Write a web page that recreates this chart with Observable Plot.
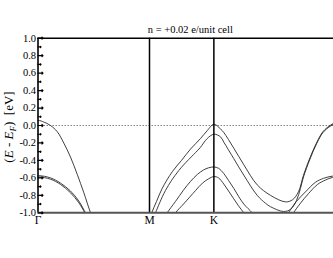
<!DOCTYPE html>
<html>
<head>
<meta charset="utf-8">
<script src="https://cdn.jsdelivr.net/npm/d3@7"></script>
<script src="https://cdn.jsdelivr.net/npm/@observablehq/plot@0.6"></script>
<style>
  html, body { margin: 0; padding: 0; background: white; }
  svg text { font-family: 'Liberation Serif', 'DejaVu Serif', serif !important; }
</style>
</head>
<body>
<div id="chart"></div>
<script>
// Path coordinate k in units of |ΓM|; M = 1, K = 1 + 1/√3, Γ' = 1 + √3
const K = 1 + 1 / Math.sqrt(3);
const G2 = 1 + Math.sqrt(3);

const titleText = "n = +0.02 e/unit cell";
const xTickPos = [0, 1, K];
const xTickLabels = ["Γ", "M", "K"];
const yTicksMajor = [-1.0, -0.8, -0.6, -0.4, -0.2, 0.0, 0.2, 0.4, 0.6, 0.8, 1.0];
const yTicksMinor = [-0.9, -0.7, -0.5, -0.3, -0.1, 0.1, 0.3, 0.5, 0.7, 0.9];

// Bands as [k, E - E_F (eV)]
const bandA = [[-0.112, 0.0], [0, 0.057], [0.052, 0.04], [0.112, 0.0], [0.172, -0.07], [0.231, -0.2],
  [0.291, -0.36], [0.352, -0.56], [0.411, -0.77], [0.471, -1.0], [0.516, -1.15]];
const bandB1 = [[-0.112, -0.60], [0, -0.575], [0.112, -0.60], [0.202, -0.66], [0.291, -0.75],
  [0.366, -0.865], [0.426, -1.0], [0.45, -1.05]];
const bandB2 = [[-0.112, -0.615], [0, -0.59], [0.112, -0.615], [0.202, -0.675], [0.291, -0.77],
  [0.366, -0.885], [0.420, -1.0], [0.44, -1.05]];
const bandC1 = [[1.0, -1.08], [1.020, -1.0], [1.063, -0.87], [1.114, -0.72], [1.204, -0.53], [1.287, -0.40],
  [1.368, -0.27], [1.457, -0.15], [1.517, -0.06], [K, 0.015], [1.637, -0.04], [1.666, -0.08],
  [1.756, -0.26], [1.846, -0.45], [1.966, -0.68], [2.085, -0.80], [2.220, -0.875], [2.283, -0.85],
  [2.336, -0.76], [2.381, -0.57], [2.439, -0.37], [2.498, -0.2], [2.556, -0.07], [2.619, 0.0],
  [2.677, 0.04], [G2, 0.057], [2.787, 0.04]];
const bandC2 = [[1.03, -1.08], [1.054, -1.0], [1.143, -0.745], [1.263, -0.515], [1.428, -0.29],
  [1.457, -0.25], [1.517, -0.15], [K, -0.10], [1.637, -0.13], [1.666, -0.19], [1.756, -0.38],
  [1.846, -0.57], [1.966, -0.80], [2.040, -0.89], [2.085, -0.93], [2.202, -0.985], [2.265, -0.96],
  [2.318, -0.86], [2.354, -0.72], [2.381, -0.59], [2.439, -0.385], [2.498, -0.21], [2.556, -0.08],
  [2.619, -0.01], [2.677, 0.03], [G2, 0.045], [2.787, 0.03]];
const bandC3 = [[1.140, -1.05], [1.159, -1.0], [1.233, -0.87], [1.305, -0.74], [1.368, -0.64],
  [1.430, -0.56], [1.484, -0.51], [1.529, -0.485], [K, -0.475], [1.619, -0.49], [1.666, -0.55],
  [1.709, -0.63], [1.756, -0.72], [1.798, -0.81], [1.846, -0.90], [1.921, -1.0], [1.95, -1.05]];
const bandC4 = [[1.21, -1.05], [1.233, -1.0], [1.305, -0.90], [1.413, -0.745], [1.475, -0.66],
  [1.531, -0.61], [K, -0.585], [1.619, -0.60], [1.666, -0.67], [1.709, -0.75], [1.756, -0.84],
  [1.798, -0.92], [1.846, -1.0], [1.87, -1.05]];
const bandB1b = [[2.22, -1.05], [2.246, -1.0], [2.318, -0.87], [2.399, -0.76], [2.489, -0.65],
  [2.561, -0.605], [2.641, -0.58], [G2, -0.575], [2.82, -0.58]];
const bandB2b = [[2.265, -1.05], [2.291, -1.0], [2.354, -0.89], [2.426, -0.78], [2.507, -0.675],
  [2.578, -0.625], [2.641, -0.595], [G2, -0.59], [2.82, -0.595]];

const bands = {A: bandA, B1: bandB1, B2: bandB2, C1: bandC1, C2: bandC2, C3: bandC3, C4: bandC4,
  B1b: bandB1b, B2b: bandB2b};
const table = [];
for (const [name, pts] of Object.entries(bands)) for (const [k, E] of pts) table.push({band: name, k, E});

const W = 333, H = 258;
const mL = 37.5, mT = 37.7, mB = 45.7;
const unit = 111.5;
const xMax = (W - mL) / unit;

const serif = "'Liberation Serif', 'DejaVu Serif', serif";

const plot = Plot.plot({
  width: W,
  height: H,
  marginLeft: mL,
  marginRight: 0,
  marginTop: mT,
  marginBottom: mB,
  style: {fontFamily: serif, fontSize: "10.5px", background: "white", color: "black", overflow: "visible"},
  x: {domain: [0, xMax], axis: null},
  y: {domain: [-1, 1], axis: null},
  marks: [
    Plot.ruleY([0], {stroke: "#777", strokeWidth: 0.9, strokeDasharray: "1.5,1.5"}),
    Plot.line(table, {x: "k", y: "E", z: "band", curve: "catmull-rom", stroke: "#2a2a2a", strokeWidth: 0.9, clip: true}),
    Plot.ruleX([1, K], {stroke: "black", strokeWidth: 1.5}),
    Plot.ruleX([0], {stroke: "black", strokeWidth: 1.6}),
    Plot.ruleY([1], {stroke: "black", strokeWidth: 1.5}),
    Plot.ruleY([-1], {stroke: "#555", strokeWidth: 2}),
    Plot.vector(yTicksMajor, {x: 0, y: d => d, length: 5, rotate: 90, anchor: "start", stroke: "black", strokeWidth: 1.2}),
    Plot.vector(yTicksMinor, {x: 0, y: d => d, length: 3, rotate: 90, anchor: "start", stroke: "black", strokeWidth: 1.2}),
    Plot.axisY({ticks: yTicksMajor, tickSize: 0, tickPadding: 2, tickFormat: d => d.toFixed(1), label: null, fontSize: 10.5}),
    Plot.axisX({ticks: xTickPos, tickSize: 0, tickPadding: 3, tickFormat: d => xTickLabels[xTickPos.indexOf(d)], label: null, fontSize: 11.5}),
    Plot.text([titleText], {x: G2 / 2, frameAnchor: "top", dy: -8.2, lineAnchor: "middle", text: d => d, fontSize: 10.5})
  ]
});

document.getElementById("chart").appendChild(plot);

// Y axis title with italic E and subscript F
const svg = d3.select(plot);
const lab = svg.append("text")
  .attr("transform", "translate(12.5,127) rotate(-90)")
  .attr("text-anchor", "middle")
  .attr("fill", "black")
  .style("font-size", "13px");
lab.append("tspan").text("(");
lab.append("tspan").attr("font-style", "italic").text("E");
lab.append("tspan").text(" - ");
lab.append("tspan").attr("font-style", "italic").text("E");
lab.append("tspan").attr("font-style", "italic").attr("font-size", "9px").attr("dy", 3).text("F");
lab.append("tspan").attr("dy", -3).text(")");
lab.append("tspan").text("\u00a0\u00a0[eV]");
</script>
</body>
</html>
